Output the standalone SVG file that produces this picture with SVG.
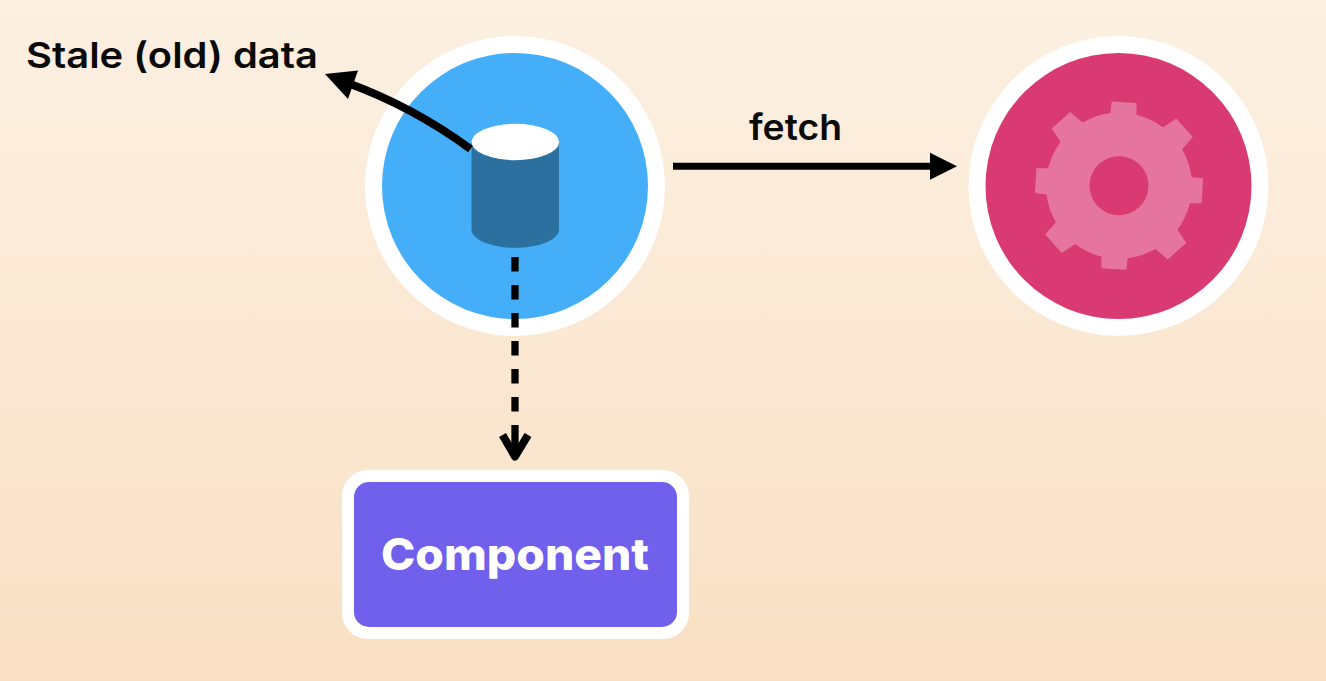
<svg xmlns="http://www.w3.org/2000/svg" width="1326" height="681" viewBox="0 0 1326 681">
<style>
.lbl{font-family:"Inter","Liberation Sans",sans-serif;font-weight:560;font-size:36px;fill:#0a0a0a}
.ring{fill:#fff}
.line{fill:none;stroke:#000;stroke-width:7}
.tooth{fill:#e5759e}
</style>
<defs>
<linearGradient id="bg" x1="0" y1="0" x2="0" y2="1">
<stop offset="0" stop-color="#fcf0e2"/>
<stop offset="1" stop-color="#f9e0c4"/>
</linearGradient>
<path id="t" class="tooth" d="M-12.500 -83.500H12.500L13.500 -65H-13.500Z"/>
<path id="d" class="tooth" d="M-12.400 -87.500H12.400L15.500 -65H-15.500Z"/>
</defs>
<rect width="1326" height="681" fill="url(#bg)"/>
<g id="cache">
<circle class="ring" cx="515" cy="186" r="150"/>
<circle cx="515" cy="186" r="133" fill="#45aef9"/>
<path d="M471.500 142V229.500C471.500 239.500 491 247.800 515.300 247.800S559 239.500 559 229.500V142Z" fill="#2b709f"/>
<ellipse cx="515.300" cy="142" rx="43.800" ry="18.200" fill="#fff"/>
</g>
<g id="server">
<circle class="ring" cx="1118.500" cy="186" r="150"/>
<circle cx="1118.500" cy="186" r="133" fill="#d93a72"/>
<g transform="translate(1119 185.700) rotate(3.500)">
<circle r="73" class="tooth"/>
<use href="#t"/>
<use href="#d" transform="rotate(45)"/>
<use href="#t" transform="rotate(90)"/>
<use href="#d" transform="rotate(135)"/>
<use href="#t" transform="rotate(180)"/>
<use href="#d" transform="rotate(225)"/>
<use href="#t" transform="rotate(270)"/>
<use href="#d" transform="rotate(315)"/>
<circle r="29.500" fill="#d93a72"/>
</g>
</g>
<g id="component">
<rect x="342" y="470" width="347" height="169" rx="26" class="ring"/>
<rect x="354" y="482" width="323" height="145" rx="15" fill="#7160ec"/>
<text x="381" y="570" font-family="Inter,'Liberation Sans',sans-serif" font-weight="800" font-size="44" fill="#fff" textLength="268" lengthAdjust="spacingAndGlyphs">Component</text>
</g>
<g id="connectors">
<path class="line" style="stroke-width:8" d="M470.500 149C442 128 403 103 345 82"/>
<path d="M325 74L358 70.500L348 99Z"/>
<path class="line" d="M673 166.300H932"/>
<path d="M957 166.300L930 152.700V179.700Z"/>
<path d="M515 257V425" fill="none" stroke="#000" stroke-width="7.300" stroke-dasharray="14.500 13.500"/>
<path d="M515 425V456" fill="none" stroke="#000" stroke-width="7.300"/>
<path d="M502.500 435L515 456.500L528 435" fill="none" stroke="#000" stroke-width="8" stroke-linejoin="round"/>
</g>
<text class="lbl" x="26" y="68" textLength="292" lengthAdjust="spacingAndGlyphs">Stale (old) data</text>
<text class="lbl" x="749" y="140" textLength="93" lengthAdjust="spacingAndGlyphs">fetch</text>
</svg>
